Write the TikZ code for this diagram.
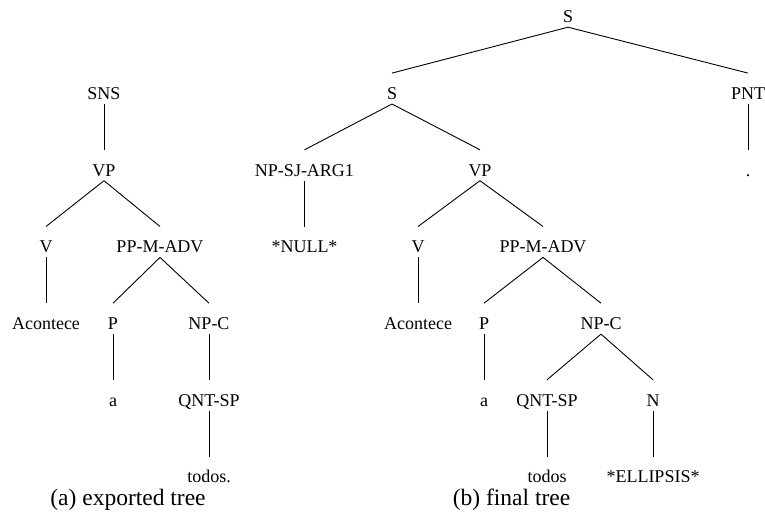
\documentclass[tikz,border=0pt]{standalone}
\usepackage{fontspec}
\setmainfont{Liberation Serif}
\begin{document}
\begin{tikzpicture}[x=1pt,y=-1pt,
  lbl/.style={anchor=base,inner sep=0pt,text height=26pt,text depth=4.5pt,
    font=\fontsize{18}{20}\selectfont},
  captext/.style={anchor=base,inner sep=0pt,font=\fontsize{23.5}{26}\selectfont},
  edge/.style={draw=black,line width=0.9pt}]
\useasboundingbox (0,0) rectangle (765,519);

% (a) exported tree
\node[lbl] (aSNS) at (104,99.3) {SNS};
\node[lbl] (aVP)  at (104,176) {VP};
\node[lbl] (aV)   at (46,252.7) {V};
\node[lbl] (aPP)  at (160,252.7) {PP-M-ADV};
\node[lbl] (aAc)  at (46,329.4) {Acontece};
\node[lbl] (aP)   at (113,329.4) {P};
\node[lbl] (aNP)  at (209,329.4) {NP-C};
\node[lbl] (aa)   at (113,406) {a};
\node[lbl] (aQ)   at (209,406) {QNT-SP};
\node[lbl] (at)   at (209,482.8) {todos.};
\foreach \p/\c in {aSNS/aVP,aVP/aV,aVP/aPP,aV/aAc,aPP/aP,aPP/aNP,aP/aa,aNP/aQ,aQ/at}
  \draw[edge] (\p.south) -- (\c.north);
\node[captext] (capA) at (128,505) {(a) exported tree};

% (b) final tree
\node[lbl] (bS)    at (568,22.5) {S};
\node[lbl] (bS2)   at (392,99.3) {S};
\node[lbl] (bPNT)  at (748,99.3) {PNT};
\node[lbl] (bNPSJ) at (304.5,176) {NP-SJ-ARG1};
\node[lbl] (bVP)   at (480,176) {VP};
\node[lbl] (bdot)  at (748,176) {.};
\node[lbl] (bNULL) at (304.5,252.7) {*NULL*};
\node[lbl] (bV)    at (418,252.7) {V};
\node[lbl] (bPP)   at (543,252.7) {PP-M-ADV};
\node[lbl] (bAc)   at (418,329.4) {Acontece};
\node[lbl] (bP)    at (484,329.4) {P};
\node[lbl] (bNP)   at (601,329.4) {NP-C};
\node[lbl] (ba)    at (484,406) {a};
\node[lbl] (bQ)    at (547,406) {QNT-SP};
\node[lbl] (bN)    at (653,406) {N};
\node[lbl] (bt)    at (547,482.8) {todos};
\node[lbl] (bE)    at (653,482.8) {*ELLIPSIS*};
\foreach \p/\c in {bS/bS2,bS/bPNT,bPNT/bdot,bS2/bNPSJ,bS2/bVP,bNPSJ/bNULL,
    bVP/bV,bVP/bPP,bV/bAc,bPP/bP,bPP/bNP,bP/ba,bNP/bQ,bNP/bN,bQ/bt,bN/bE}
  \draw[edge] (\p.south) -- (\c.north);
\node[captext] (capB) at (511.5,505) {(b) final tree};
\end{tikzpicture}
\end{document}
